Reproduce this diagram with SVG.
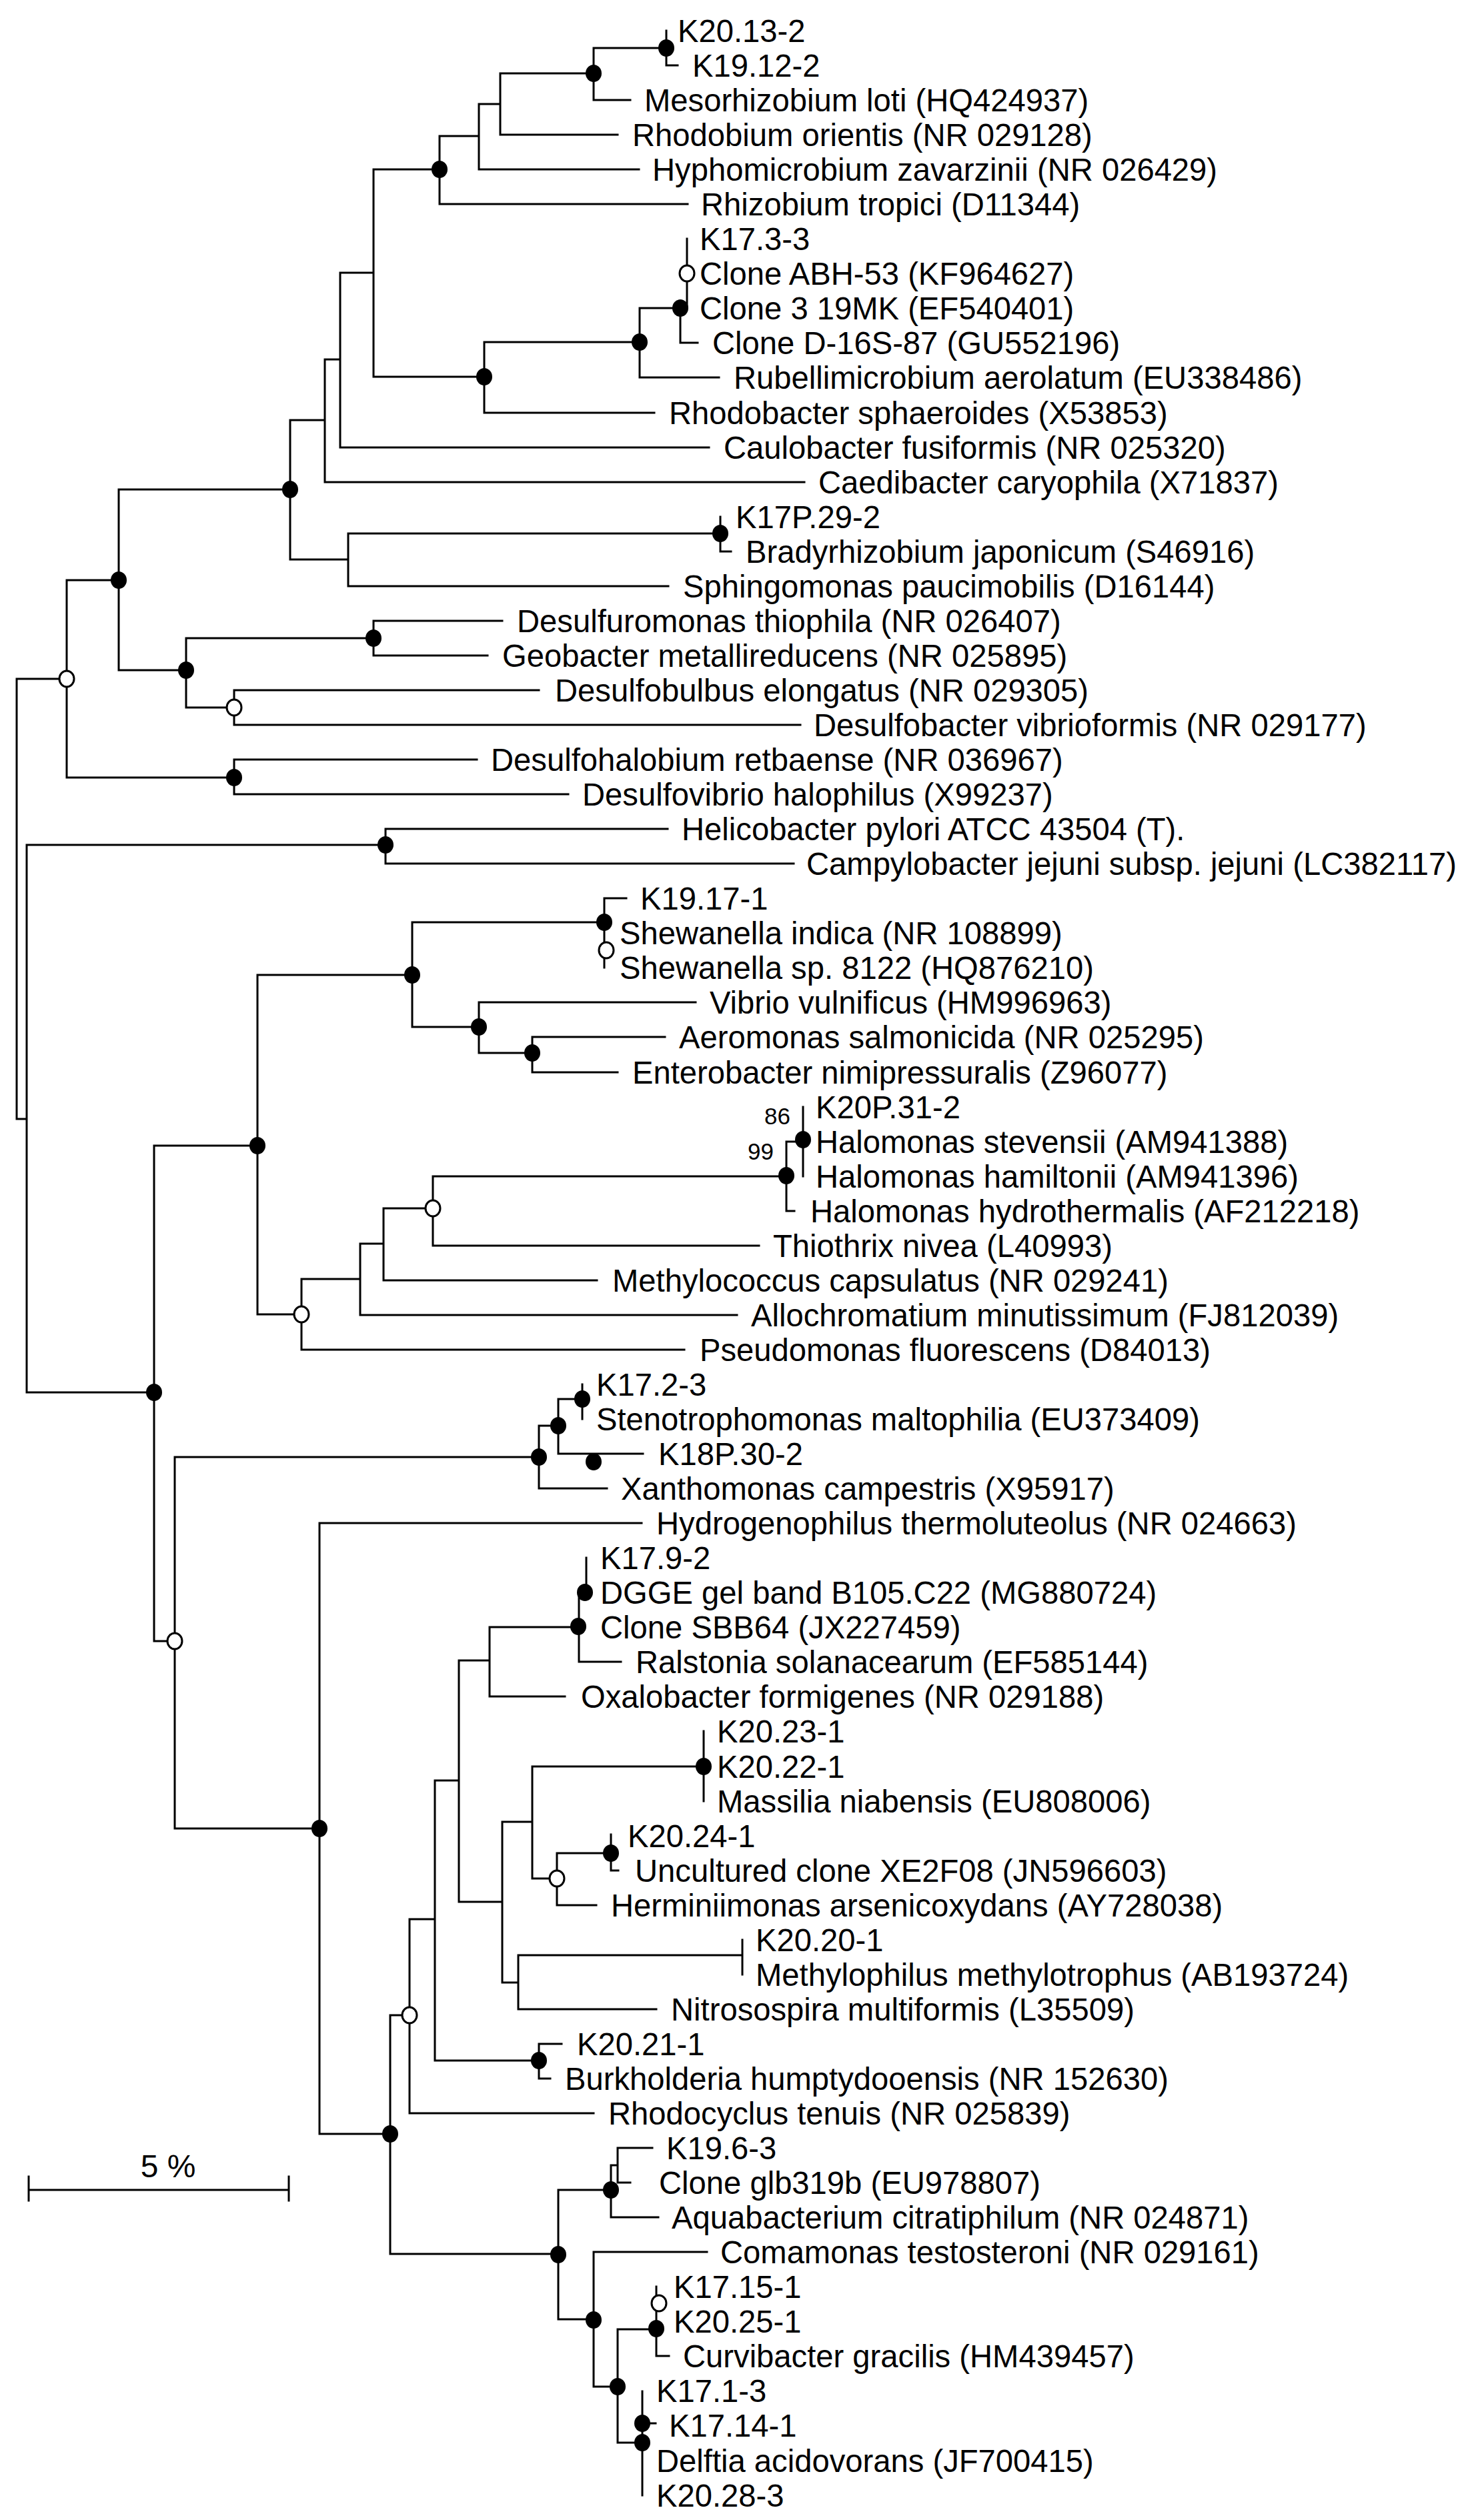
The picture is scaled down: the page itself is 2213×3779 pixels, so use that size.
<svg xmlns="http://www.w3.org/2000/svg" width="2213" height="3779" viewBox="0 0 2213 3779">
<style>
.br{fill:none;stroke:#000;stroke-width:3;stroke-linecap:square}
.f{fill:#000}
.o{fill:#fff;stroke:#000;stroke-width:3}
text{font-family:"Liberation Sans",Arial,sans-serif;font-size:47.2px;fill:#000}
.bs{font-size:35px;text-anchor:end}
</style>
<rect width="2213" height="3779" fill="#fff"/>
<g id="connectors" class="br">
<path d="M999 46V98H1016M890 72H999M890 72V150H945M750 110H890M750 110V202H926M718 156H750M718 156V254H958M659 204H718M659 204V306H1031M1030 358V462M1020 462H1030M1020 462V514H1046M959 462H1020M959 462V566H1078M726 513H959M726 513V619H981M560 254H659M560 254V565H726M510 409H560M510 409V671H1063M487 539H510M487 539V723H1206M1080 775V827H1096M522 800H1080M522 800V879H1002M435 630H487M435 630V839H522M560 931H753M560 931V983H731M351 1035H808M351 1035V1087H1200M279 957H560M279 957V1061H351M178 734H435M178 734V1005H279M351 1139H715M351 1139V1191H852M100 870H178M100 870V1166H351M578 1243H1001M578 1243V1295H1190M25 1018H100M25 1018V1678H40M40 1267H578M40 1267V2088H231"/>
<path d="M939 1347H906V1451M618 1383H906M618 1383V1540H718M718 1503H1043M718 1503V1579H798M798 1555H997M798 1555V1608H926M1204 1660V1764M1179 1712H1204M1179 1712V1816H1191M649 1764H1179M649 1764V1868H1138M575 1812H649M575 1812V1920H895M540 1865H575M540 1865V1972H1105M452 1918H540M452 1918V2024H1026M386 1462H618M386 1462V1971H452M873 2076V2128M837 2098H873M837 2098V2180H964M808 2138H837M808 2138V2232H910M262 2185H808M262 2185V2742H479M231 1718H386M231 1718V2461H262"/>
<path d="M479 2284H962M479 2284V3200H585M879 2336V2388H868M868 2388V2492H931M734 2440H868M734 2440V2544H847M688 2490H734M688 2490V2852H753M1055 2596V2701M798 2649H1055M916 2751V2805H927M835 2779H916M835 2779V2857H894M798 2649V2817H835M753 2732H798M1113 2909V2961M777 2932H1113M777 2932V3013H984M753 2732V2973H777M808 3065H842M808 3065V3117H825M652 2670H688M652 2670V3090H808M614 2878H652M614 2878V3169H890M585 3022H614M585 3022V3380H837M978 3221H926V3273H945M916 3247H926M916 3247V3325H987M837 3284H916M837 3284V3478H890M890 3377H1060M890 3377V3579H926M984 3429V3533H1003M926 3493H984M926 3493V3663H963M963 3586V3742M963 3634H983"/>
</g>
<g id="support">
<ellipse class="f" cx="999" cy="72" rx="12" ry="13"/><ellipse class="f" cx="890" cy="110" rx="12" ry="13"/><ellipse class="f" cx="659" cy="254" rx="12" ry="13"/><ellipse class="f" cx="1020" cy="462" rx="12" ry="13"/><ellipse class="f" cx="959" cy="513" rx="12" ry="13"/><ellipse class="f" cx="726" cy="565" rx="12" ry="13"/><ellipse class="f" cx="1080" cy="800" rx="12" ry="13"/><ellipse class="f" cx="435" cy="734" rx="12" ry="13"/><ellipse class="f" cx="560" cy="957" rx="12" ry="13"/><ellipse class="f" cx="279" cy="1005" rx="12" ry="13"/><ellipse class="f" cx="178" cy="870" rx="12" ry="13"/><ellipse class="f" cx="351" cy="1166" rx="12" ry="13"/><ellipse class="f" cx="578" cy="1267" rx="12" ry="13"/><ellipse class="f" cx="906" cy="1383" rx="12" ry="13"/><ellipse class="f" cx="618" cy="1462" rx="12" ry="13"/><ellipse class="f" cx="718" cy="1540" rx="12" ry="13"/><ellipse class="f" cx="798" cy="1579" rx="12" ry="13"/><ellipse class="f" cx="1204" cy="1709" rx="12" ry="13"/><ellipse class="f" cx="1179" cy="1763" rx="12" ry="13"/><ellipse class="f" cx="386" cy="1718" rx="12" ry="13"/><ellipse class="f" cx="873" cy="2098" rx="12" ry="13"/><ellipse class="f" cx="837" cy="2138" rx="12" ry="13"/><ellipse class="f" cx="890" cy="2192" rx="12" ry="13"/><ellipse class="f" cx="808" cy="2185" rx="12" ry="13"/><ellipse class="f" cx="231" cy="2088" rx="12" ry="13"/><ellipse class="f" cx="479" cy="2742" rx="12" ry="13"/><ellipse class="f" cx="877" cy="2388" rx="12" ry="13"/><ellipse class="f" cx="867" cy="2439" rx="12" ry="13"/><ellipse class="f" cx="1055" cy="2649" rx="12" ry="13"/><ellipse class="f" cx="916" cy="2779" rx="12" ry="13"/><ellipse class="f" cx="808" cy="3090" rx="12" ry="13"/><ellipse class="f" cx="585" cy="3200" rx="12" ry="13"/><ellipse class="f" cx="916" cy="3284" rx="12" ry="13"/><ellipse class="f" cx="837" cy="3381" rx="12" ry="13"/><ellipse class="f" cx="890" cy="3479" rx="12" ry="13"/><ellipse class="f" cx="984" cy="3492" rx="12" ry="13"/><ellipse class="f" cx="926" cy="3579" rx="12" ry="13"/><ellipse class="f" cx="963" cy="3634" rx="12" ry="13"/><ellipse class="f" cx="963" cy="3663" rx="12" ry="13"/>
<ellipse class="o" cx="1030" cy="410" rx="11" ry="12"/><ellipse class="o" cx="351" cy="1061" rx="11" ry="12"/><ellipse class="o" cx="100" cy="1018" rx="11" ry="12"/><ellipse class="o" cx="909" cy="1425" rx="11" ry="12"/><ellipse class="o" cx="649" cy="1812" rx="11" ry="12"/><ellipse class="o" cx="452" cy="1971" rx="11" ry="12"/><ellipse class="o" cx="262" cy="2461" rx="11" ry="12"/><ellipse class="o" cx="835" cy="2817" rx="11" ry="12"/><ellipse class="o" cx="614" cy="3022" rx="11" ry="12"/><ellipse class="o" cx="988" cy="3454" rx="11" ry="12"/>
<text class="bs" x="1185" y="1686">86</text>
<text class="bs" x="1160" y="1739">99</text>
</g>
<g id="leaves">
<text x="1016" y="63">K20.13-2</text>
<text x="1038" y="115">K19.12-2</text>
<text x="966" y="167">Mesorhizobium loti (HQ424937)</text>
<text x="948" y="219">Rhodobium orientis (NR 029128)</text>
<text x="978" y="271">Hyphomicrobium zavarzinii (NR 026429)</text>
<text x="1051" y="323">Rhizobium tropici (D11344)</text>
<text x="1049" y="375">K17.3-3</text>
<text x="1049" y="427">Clone ABH-53 (KF964627)</text>
<text x="1049" y="479">Clone 3 19MK (EF540401)</text>
<text x="1068" y="531">Clone D-16S-87 (GU552196)</text>
<text x="1100" y="583">Rubellimicrobium aerolatum (EU338486)</text>
<text x="1003" y="636">Rhodobacter sphaeroides (X53853)</text>
<text x="1085" y="688">Caulobacter fusiformis (NR 025320)</text>
<text x="1227" y="740">Caedibacter caryophila (X71837)</text>
<text x="1103" y="792">K17P.29-2</text>
<text x="1118" y="844">Bradyrhizobium japonicum (S46916)</text>
<text x="1024" y="896">Sphingomonas paucimobilis (D16144)</text>
<text x="775" y="948">Desulfuromonas thiophila (NR 026407)</text>
<text x="753" y="1000">Geobacter metallireducens (NR 025895)</text>
<text x="832" y="1052">Desulfobulbus elongatus (NR 029305)</text>
<text x="1220" y="1104">Desulfobacter vibrioformis (NR 029177)</text>
<text x="736" y="1156">Desulfohalobium retbaense (NR 036967)</text>
<text x="873" y="1208">Desulfovibrio halophilus (X99237)</text>
<text x="1022" y="1260">Helicobacter pylori ATCC 43504 (T).</text>
<text x="1209" y="1312">Campylobacter jejuni subsp. jejuni (LC382117)</text>
<text x="960" y="1364">K19.17-1</text>
<text x="929" y="1416">Shewanella indica (NR 108899)</text>
<text x="929" y="1468">Shewanella sp. 8122 (HQ876210)</text>
<text x="1064" y="1520">Vibrio vulnificus (HM996963)</text>
<text x="1018" y="1572">Aeromonas salmonicida (NR 025295)</text>
<text x="948" y="1625">Enterobacter nimipressuralis (Z96077)</text>
<text x="1223" y="1677">K20P.31-2</text>
<text x="1223" y="1729">Halomonas stevensii (AM941388)</text>
<text x="1223" y="1781">Halomonas hamiltonii (AM941396)</text>
<text x="1215" y="1833">Halomonas hydrothermalis (AF212218)</text>
<text x="1159" y="1885">Thiothrix nivea (L40993)</text>
<text x="918" y="1937">Methylococcus capsulatus (NR 029241)</text>
<text x="1126" y="1989">Allochromatium minutissimum (FJ812039)</text>
<text x="1049" y="2041">Pseudomonas fluorescens (D84013)</text>
<text x="894" y="2093">K17.2-3</text>
<text x="894" y="2145">Stenotrophomonas maltophilia (EU373409)</text>
<text x="987" y="2197">K18P.30-2</text>
<text x="931" y="2249">Xanthomonas campestris (X95917)</text>
<text x="984" y="2301">Hydrogenophilus thermoluteolus (NR 024663)</text>
<text x="900" y="2353">K17.9-2</text>
<text x="900" y="2405">DGGE gel band B105.C22 (MG880724)</text>
<text x="900" y="2457">Clone SBB64 (JX227459)</text>
<text x="953" y="2509">Ralstonia solanacearum (EF585144)</text>
<text x="871" y="2561">Oxalobacter formigenes (NR 029188)</text>
<text x="1075" y="2613">K20.23-1</text>
<text x="1075" y="2666">K20.22-1</text>
<text x="1075" y="2718">Massilia niabensis (EU808006)</text>
<text x="941" y="2770">K20.24-1</text>
<text x="952" y="2822">Uncultured clone XE2F08 (JN596603)</text>
<text x="916" y="2874">Herminiimonas arsenicoxydans (AY728038)</text>
<text x="1133" y="2926">K20.20-1</text>
<text x="1133" y="2978">Methylophilus methylotrophus (AB193724)</text>
<text x="1006" y="3030">Nitrosospira multiformis (L35509)</text>
<text x="865" y="3082">K20.21-1</text>
<text x="847" y="3134">Burkholderia humptydooensis (NR 152630)</text>
<text x="912" y="3186">Rhodocyclus tenuis (NR 025839)</text>
<text x="999" y="3238">K19.6-3</text>
<text x="988" y="3290">Clone glb319b (EU978807)</text>
<text x="1007" y="3342">Aquabacterium citratiphilum (NR 024871)</text>
<text x="1080" y="3394">Comamonas testosteroni (NR 029161)</text>
<text x="1010" y="3446">K17.15-1</text>
<text x="1010" y="3498">K20.25-1</text>
<text x="1024" y="3550">Curvibacter gracilis (HM439457)</text>
<text x="984" y="3602">K17.1-3</text>
<text x="1003" y="3654">K17.14-1</text>
<text x="984" y="3707">Delftia acidovorans (JF700415)</text>
<text x="984" y="3759">K20.28-3</text>
</g>
<g id="scalebar">
<path class="br" d="M43 3284H433M43 3264V3300M433 3264V3300"/>
<text x="252" y="3265" text-anchor="middle" style="font-size:48px">5 %</text>
</g>
</svg>
